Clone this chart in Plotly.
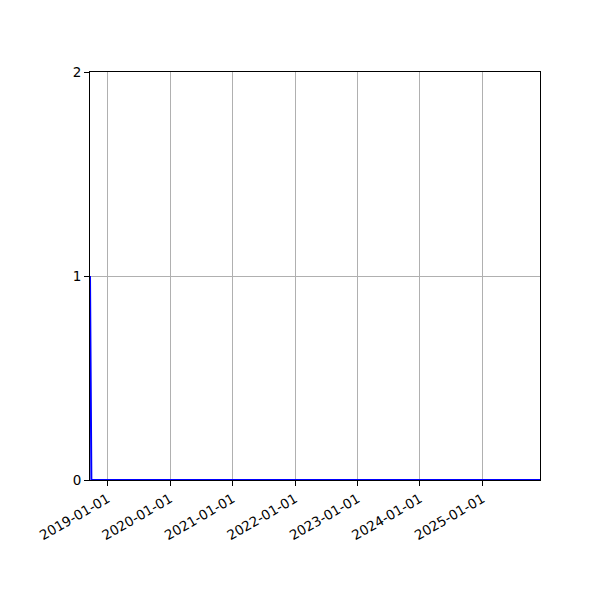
import plotly.graph_objs as go

# series: one spike at the start, then zero
dates = ["2018-09-20", "2018-09-28", "2025-12-03"]
values = [1, 0, 0]

x_range = ["2018-09-20", "2025-12-03"]
x_ticks = ["2019-01-01", "2020-01-01", "2021-01-01", "2022-01-01",
           "2023-01-01", "2024-01-01", "2025-01-01"]
y_ticks = [0, 1, 2]

fig = go.Figure()
fig.add_trace(go.Scatter(x=dates, y=values, mode="lines",
                         line=dict(color="blue", width=2)))

# page body adds 8px around the figure, so margins are shifted by that
fig.update_layout(
    width=600, height=600,
    margin=dict(l=82, r=68, t=64, b=128),
    paper_bgcolor="white", plot_bgcolor="white",
    showlegend=False,
    font=dict(family="DejaVu Sans", size=13.5, color="black"),
    xaxis=dict(
        type="date", range=x_range,
        tickvals=x_ticks, ticktext=x_ticks, tickangle=-30,
        showgrid=True, gridcolor="#b0b0b0", gridwidth=1,
        showline=True, linecolor="black", linewidth=1, mirror=True,
        ticks="outside", ticklen=5, tickcolor="black",
        zeroline=False, layer="below traces",
    ),
    yaxis=dict(
        range=[0, 2], tickvals=y_ticks,
        showgrid=True, gridcolor="#b0b0b0", gridwidth=1,
        showline=True, linecolor="black", linewidth=1, mirror=True,
        ticks="outside", ticklen=5, tickcolor="black",
        zeroline=False, layer="below traces",
    ),
)

fig.write_html("out.html")
